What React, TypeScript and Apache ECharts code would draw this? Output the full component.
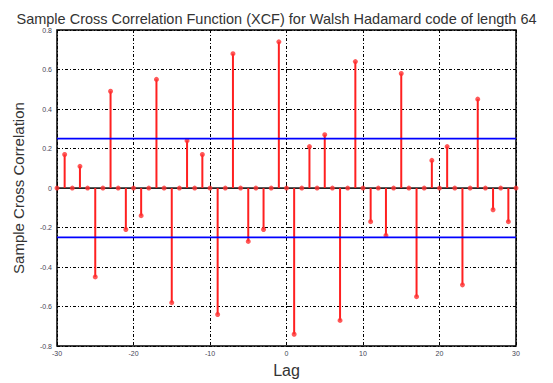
import React, { useEffect, useRef } from "react";
import * as echarts from "echarts";

const lags = [
  -30, -29, -28, -27, -26, -25, -24, -23, -22, -21, -20, -19, -18, -17, -16, -15,
  -14, -13, -12, -11, -10, -9, -8, -7, -6, -5, -4, -3, -2, -1, 0, 1, 2, 3, 4, 5,
  6, 7, 8, 9, 10, 11, 12, 13, 14, 15, 16, 17, 18, 19, 20, 21, 22, 23, 24, 25, 26,
  27, 28, 29, 30,
];
const xcf = [
  0, 0.17, 0, 0.11, 0, -0.45, 0, 0.49, 0, -0.21, 0, -0.14, 0, 0.55, 0, -0.58,
  0, 0.24, 0, 0.17, 0, -0.64, 0, 0.68, 0, -0.27, 0, -0.21, 0, 0.74, 0, -0.74, 0, 0.21, 0, 0.27,
  0, -0.67, 0, 0.64, 0, -0.17, 0, -0.24, 0, 0.58, 0, -0.55, 0, 0.14, 0, 0.21, 0,
  -0.49, 0, 0.45, 0, -0.11, 0, -0.17, 0,
];
const confidenceBound = 0.25;
const xTicks = [-30, -20, -10, 0, 10, 20, 30];
const yTicks = [-0.8, -0.6, -0.4, -0.2, 0, 0.2, 0.4, 0.6, 0.8];

const FONT = "Liberation Sans, Arial, sans-serif";

export default function App() {
  const ref = useRef<HTMLDivElement>(null);
  useEffect(() => {
    if (!ref.current) return;
    const chart = echarts.init(ref.current, null, { renderer: "svg" });
    const pts = lags.map((l, i) => [l, xcf[i]]);
    const gridLine = { show: true, lineStyle: { color: "#000", width: 1, type: [3, 2, 1, 2] } };
    chart.setOption({
      animation: false,
      backgroundColor: "#fff",
      title: {
        text: "Sample Cross Correlation Function (XCF) for Walsh Hadamard code of length 64",
        left: "center",
        top: 6,
        textStyle: { fontSize: 14.5, fontWeight: "normal", color: "#333", fontFamily: FONT },
      },
      grid: { left: 57, right: 37, top: 30, bottom: 31, show: true, borderColor: "#000", borderWidth: 1.5, backgroundColor: "transparent" },
      xAxis: {
        type: "value",
        min: xTicks[0],
        max: xTicks[xTicks.length - 1],
        interval: 10,
        name: "Lag",
        nameLocation: "middle",
        nameGap: 13,
        nameTextStyle: { fontSize: 16, color: "#333", fontFamily: FONT },
        axisLine: { show: false },
        axisTick: { show: true, inside: true, length: 4, lineStyle: { color: "#000" } },
        axisLabel: { fontSize: 7, color: "#445", margin: 4, fontFamily: FONT },
        splitLine: gridLine,
      },
      yAxis: {
        type: "value",
        min: yTicks[0],
        max: yTicks[yTicks.length - 1],
        interval: 0.2,
        name: "Sample Cross Correlation",
        nameLocation: "middle",
        nameGap: 31,
        nameTextStyle: { fontSize: 15, color: "#333", fontFamily: FONT },
        axisLine: { show: false },
        axisTick: { show: true, inside: true, length: 4, lineStyle: { color: "#000" } },
        axisLabel: {
          fontSize: 7,
          color: "#445",
          margin: 5,
          fontFamily: FONT,
          formatter: (v: number) => (Math.abs(v) < 1e-9 ? "0" : String(Math.round(v * 10) / 10)),
        },
        splitLine: gridLine,
      },
      series: [
        {
          type: "line",
          data: [[xTicks[0], 0], [xTicks[xTicks.length - 1], 0]],
          symbol: "none",
          lineStyle: { color: "#222", width: 1.8 },
          z: 1,
        },
        {
          type: "bar",
          data: pts,
          barWidth: 2,
          itemStyle: { color: "#ff2020" },
          z: 2,
        },
        {
          type: "scatter",
          data: pts,
          symbol: "circle",
          symbolSize: 5,
          itemStyle: { color: "#ff3030" },
          z: 3,
        },
        {
          type: "line",
          data: [[xTicks[0], confidenceBound], [xTicks[xTicks.length - 1], confidenceBound]],
          symbol: "none",
          lineStyle: { color: "#0000ff", width: 1.8 },
          z: 4,
        },
        {
          type: "line",
          data: [[xTicks[0], -confidenceBound], [xTicks[xTicks.length - 1], -confidenceBound]],
          symbol: "none",
          lineStyle: { color: "#0000ff", width: 1.8 },
          z: 4,
        },
      ],
    });
    return () => chart.dispose();
  }, []);
  return <div ref={ref} style={{ width: 553, height: 383, position: "absolute", left: 0, top: 0 }} />;
}
